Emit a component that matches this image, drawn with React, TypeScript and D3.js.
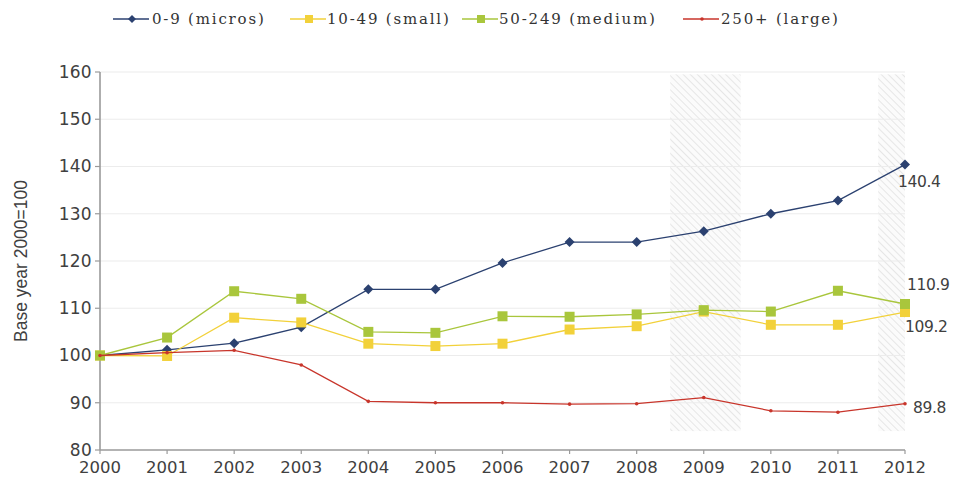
import React from "react";
import * as d3 from "d3";

const years = [2000, 2001, 2002, 2003, 2004, 2005, 2006, 2007, 2008, 2009, 2010, 2011, 2012];
const micros = [100, 101.2, 102.6, 106, 114, 114, 119.6, 124, 124, 126.3, 130, 132.8, 140.4];
const small = [100, 99.9, 108, 107, 102.5, 102, 102.5, 105.5, 106.2, 109.3, 106.5, 106.5, 109.2];
const medium = [100, 103.8, 113.6, 112, 105, 104.8, 108.3, 108.2, 108.7, 109.6, 109.3, 113.7, 110.9];
const large = [100, 100.6, 101.1, 98, 90.3, 90, 90, 89.7, 89.8, 91.1, 88.3, 88, 89.8];
const seriesNames = ["0-9 (micros)", "10-49 (small)", "50-249 (medium)", "250+ (large)"];
const yTicks = [80, 90, 100, 110, 120, 130, 140, 150, 160];
const bands = [
  [2008.5, 2009.55],
  [2011.6, 2012],
];
const bandRange = [84, 159.5];

const W = 954;
const H = 481;

export default function App() {
  const x = d3.scaleLinear().domain([2000, 2012]).range([100, 905]);
  const y = d3.scaleLinear().domain([80, 160]).range([450, 72]);

  const series = [
    { name: seriesNames[0], values: micros, color: "#2b4170", marker: "diamond", size: 5, width: 1.3 },
    { name: seriesNames[1], values: small, color: "#f2d13a", marker: "square", size: 5, width: 1.3 },
    { name: seriesNames[2], values: medium, color: "#a9c63c", marker: "square", size: 5, width: 1.3 },
    { name: seriesNames[3], values: large, color: "#c8352b", marker: "dot", size: 1.8, width: 1.3 },
  ];

  const line = d3
    .line<[number, number]>()
    .x((d) => x(d[0]))
    .y((d) => y(d[1]));

  const marker = (m: string, cx: number, cy: number, s: number, color: string, key: any) => {
    if (m === "diamond") {
      return (
        <path
          key={key}
          d={`M${cx},${cy - s} L${cx + s},${cy} L${cx},${cy + s} L${cx - s},${cy} Z`}
          fill={color}
        />
      );
    }
    if (m === "square") {
      return <rect key={key} x={cx - s} y={cy - s} width={2 * s} height={2 * s} fill={color} />;
    }
    return <circle key={key} cx={cx} cy={cy} r={s} fill={color} />;
  };

  const legendPos = [
    { lx: 113, tx: 152 },
    { lx: 290, tx: 327 },
    { lx: 462, tx: 499 },
    { lx: 683, tx: 721 },
  ];

  const endLabels = [
    { v: micros[12], text: "140.4", dx: -7, dy: 17 },
    { v: medium[12], text: "110.9", dx: 2, dy: -19 },
    { v: small[12], text: "109.2", dx: 0, dy: 15 },
    { v: large[12], text: "89.8", dx: 8, dy: 4 },
  ];

  return (
    <svg width={W} height={H} style={{ position: "absolute", left: 0, top: 0 }}>
      <defs>
        <pattern id="hatch" patternUnits="userSpaceOnUse" width="5" height="5" patternTransform="rotate(-45)">
          <rect width="5" height="5" fill="#fbfbfb" />
          <line x1="0" y1="0" x2="0" y2="5" stroke="#e6e6e6" strokeWidth="2" />
        </pattern>
      </defs>
      <rect width={W} height={H} fill="#ffffff" />

      {bands.map((b, i) => (
        <rect
          key={i}
          x={x(b[0])}
          y={y(bandRange[1])}
          width={x(b[1]) - x(b[0])}
          height={y(bandRange[0]) - y(bandRange[1])}
          fill="url(#hatch)"
        />
      ))}

      {yTicks.slice(1).map((t) => (
        <line key={t} x1={x(2000)} x2={x(2012)} y1={y(t)} y2={y(t)} stroke="#ececec" strokeWidth={1.2} />
      ))}

      {/* axes */}
      <line x1={x(2000)} x2={x(2000)} y1={y(160)} y2={y(80)} stroke="#9a9a9a" strokeWidth={1.6} />
      <line x1={x(2000)} x2={x(2012)} y1={y(80)} y2={y(80)} stroke="#9a9a9a" strokeWidth={1.6} />
      {yTicks.map((t) => (
        <g key={t}>
          <line x1={x(2000) - 5} x2={x(2000)} y1={y(t)} y2={y(t)} stroke="#9a9a9a" strokeWidth={1.2} />
          <text
            x={x(2000) - 8}
            y={y(t)}
            dy="0.35em"
            textAnchor="end"
            fontFamily="DejaVu Sans"
            fontSize={17}
            letterSpacing={0.3}
            fill="#404040"
          >
            {t}
          </text>
        </g>
      ))}
      {years.map((yr) => (
        <g key={yr}>
          <line x1={x(yr)} x2={x(yr)} y1={y(80)} y2={y(80) + 4} stroke="#9a9a9a" strokeWidth={1.2} />
          <text
            x={x(yr)}
            y={y(80) + 23}
            textAnchor="middle"
            fontFamily="DejaVu Sans"
            fontSize={16.5}
            fill="#404040"
          >
            {yr}
          </text>
        </g>
      ))}
      <text
        transform={`translate(27,${(y(80) + y(160)) / 2}) rotate(-90)`}
        textAnchor="middle"
        fontFamily="Liberation Sans"
        fontSize={17.5}
        fill="#404040"
      >
        Base year 2000=100
      </text>

      {series.map((s, si) => {
        const pts = years.map((yr, i) => [yr, s.values[i]] as [number, number]);
        return (
          <g key={si}>
            <path d={line(pts) || ""} fill="none" stroke={s.color} strokeWidth={s.width} />
            {pts.map((p, i) => marker(s.marker, x(p[0]), y(p[1]), s.size, s.color, i))}
          </g>
        );
      })}

      {endLabels.map((l, i) => (
        <text
          key={i}
          x={x(2012) + l.dx}
          y={y(l.v) + l.dy}
          fontFamily="DejaVu Sans"
          fontSize={15.5}
          fill="#404040"
          dy="0.35em"
          letterSpacing={-0.4}
        >
          {l.text}
        </text>
      ))}

      {/* legend */}
      {series.map((s, i) => {
        const p = legendPos[i];
        return (
          <g key={i}>
            <line x1={p.lx} x2={p.lx + 36} y1={19} y2={19} stroke={s.color} strokeWidth={1.5} />
            {marker(s.marker, p.lx + 19, 19, s.marker === "dot" ? 1.8 : 4, s.color, "m")}
            <text
              x={p.tx}
              y={19}
              dy="0.35em"
              fontFamily="DejaVu Serif"
              fontSize={15}
              letterSpacing={1.8}
              fill="#333333"
            >
              {s.name}
            </text>
          </g>
        );
      })}
    </svg>
  );
}
